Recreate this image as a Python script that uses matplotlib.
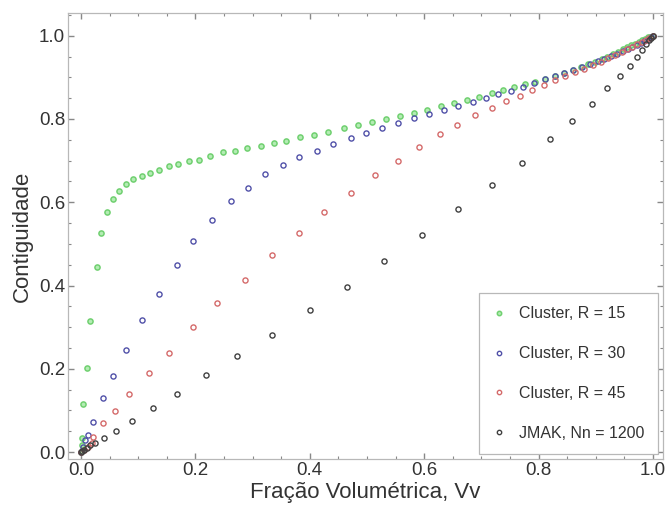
import matplotlib
matplotlib.use("Agg")
import matplotlib.pyplot as plt
from matplotlib.ticker import MultipleLocator

plt.rcParams['font.family'] = ['Liberation Sans', 'DejaVu Sans']

# ---- data ----
labels = ["Cluster, R = 15", "Cluster, R = 30", "Cluster, R = 45", "JMAK, Nn = 1200"]

x_r15 = [0.0, 0.001, 0.002, 0.004, 0.010, 0.016, 0.028, 0.035, 0.046, 0.056, 0.067, 0.078,
         0.091, 0.106, 0.121, 0.137, 0.153, 0.170, 0.188, 0.206, 0.226, 0.249, 0.269,
         0.291, 0.314, 0.338, 0.359, 0.383, 0.407, 0.432, 0.459, 0.484, 0.509, 0.533,
         0.558, 0.582, 0.605, 0.629, 0.652, 0.675, 0.696, 0.719, 0.738, 0.757, 0.776,
         0.794, 0.812, 0.829, 0.845, 0.860, 0.874, 0.887, 0.899, 0.910, 0.920, 0.930,
         0.939, 0.947, 0.955, 0.962, 0.969, 0.975, 0.981, 0.986, 0.991, 0.995, 1.0]
y_r15 = [0.0, 0.018, 0.034, 0.115, 0.202, 0.315, 0.445, 0.526, 0.576, 0.608, 0.626, 0.643,
         0.656, 0.662, 0.670, 0.677, 0.686, 0.692, 0.698, 0.702, 0.710, 0.720, 0.724,
         0.730, 0.736, 0.742, 0.746, 0.756, 0.762, 0.768, 0.779, 0.786, 0.793, 0.800,
         0.808, 0.815, 0.822, 0.832, 0.838, 0.846, 0.853, 0.863, 0.870, 0.876, 0.883,
         0.889, 0.896, 0.903, 0.910, 0.917, 0.924, 0.931, 0.938, 0.944, 0.950, 0.956,
         0.962, 0.967, 0.972, 0.977, 0.981, 0.985, 0.989, 0.993, 0.996, 0.998, 1.0]

x_r30 = [0.0, 0.003, 0.007, 0.012, 0.021, 0.038, 0.056, 0.079, 0.107, 0.136, 0.168, 0.196,
         0.229, 0.262, 0.292, 0.322, 0.353, 0.381, 0.413, 0.441, 0.472, 0.498, 0.526,
         0.554, 0.582, 0.608, 0.635, 0.659, 0.685, 0.708, 0.729, 0.752, 0.773, 0.792,
         0.811, 0.828, 0.845, 0.861, 0.876, 0.890, 0.903, 0.915, 0.926, 0.937, 0.947,
         0.956, 0.964, 0.972, 0.979, 0.985, 0.991, 0.996, 1.0]
y_r30 = [0.0, 0.012, 0.029, 0.041, 0.072, 0.130, 0.183, 0.245, 0.317, 0.380, 0.450, 0.507,
         0.558, 0.603, 0.635, 0.668, 0.690, 0.709, 0.724, 0.740, 0.755, 0.767, 0.779,
         0.790, 0.802, 0.812, 0.822, 0.832, 0.841, 0.851, 0.860, 0.868, 0.877, 0.887,
         0.895, 0.903, 0.910, 0.918, 0.925, 0.932, 0.939, 0.945, 0.951, 0.957, 0.963,
         0.968, 0.973, 0.978, 0.983, 0.988, 0.992, 0.996, 1.0]

x_r45 = [0.0, 0.005, 0.012, 0.019, 0.021, 0.038, 0.059, 0.084, 0.119, 0.154, 0.196, 0.238,
         0.287, 0.334, 0.381, 0.425, 0.472, 0.514, 0.554, 0.591, 0.628, 0.657, 0.689,
         0.719, 0.743, 0.767, 0.789, 0.810, 0.829, 0.847, 0.864, 0.880, 0.895, 0.909,
         0.922, 0.934, 0.945, 0.955, 0.964, 0.972, 0.980, 0.987, 0.993, 1.0]
y_r45 = [0.0, 0.006, 0.013, 0.022, 0.036, 0.069, 0.099, 0.139, 0.190, 0.238, 0.300, 0.358,
         0.413, 0.474, 0.526, 0.577, 0.623, 0.666, 0.700, 0.733, 0.764, 0.786, 0.810,
         0.827, 0.844, 0.856, 0.870, 0.882, 0.893, 0.903, 0.912, 0.921, 0.930, 0.938,
         0.946, 0.953, 0.960, 0.967, 0.973, 0.979, 0.985, 0.990, 0.995, 1.0]

x_jmak = [0.0, 0.002, 0.005, 0.010, 0.016, 0.025, 0.040, 0.061, 0.089, 0.126, 0.168, 0.219,
          0.272, 0.334, 0.400, 0.465, 0.530, 0.596, 0.659, 0.719, 0.771, 0.820, 0.858,
          0.893, 0.920, 0.942, 0.960, 0.972, 0.980, 0.988, 0.993, 0.997, 1.0]
y_jmak = [0.0, 0.002, 0.005, 0.010, 0.016, 0.022, 0.034, 0.050, 0.074, 0.106, 0.139, 0.185,
          0.231, 0.281, 0.341, 0.397, 0.459, 0.522, 0.584, 0.642, 0.695, 0.753, 0.796,
          0.837, 0.875, 0.903, 0.928, 0.950, 0.965, 0.980, 0.989, 0.995, 1.0]

xticks = [0.0, 0.2, 0.4, 0.6, 0.8, 1.0]
yticks = [0.0, 0.2, 0.4, 0.6, 0.8, 1.0]

# ---- figure ----
fig = plt.figure(figsize=(6.65, 5.13), dpi=100)
ax = fig.add_axes([0.102, 0.105, 0.895, 0.870])

series = [
    (x_r15, y_r15, dict(mfc='#b4ecb4', mec='#70d070', mew=1.1)),
    (x_r30, y_r30, dict(mfc='none', mec='#5050a8', mew=1.0)),
    (x_r45, y_r45, dict(mfc='none', mec='#d46a6a', mew=1.0)),
    (x_jmak, y_jmak, dict(mfc='none', mec='#404040', mew=1.0)),
]
for (xs, ys, st), lab in zip(series, labels):
    ax.plot(xs, ys, linestyle='none', marker='o', markersize=3.7, label=lab, **st)

ax.set_xlim(-0.023, 1.0175)
ax.set_ylim(-0.017, 1.055)
ax.set_xticks(xticks)
ax.set_yticks(yticks)
ax.set_xticklabels([f"{t:.1f}" for t in xticks])
ax.set_yticklabels([f"{t:.1f}" for t in yticks])
ax.xaxis.set_minor_locator(MultipleLocator(0.05))
ax.yaxis.set_minor_locator(MultipleLocator(0.05))

for sp in ax.spines.values():
    sp.set_color('#b8b8b8')
    sp.set_linewidth(0.9)
ax.tick_params(which='both', direction='in', top=True, right=True, color='#888888')
ax.tick_params(which='major', length=4, width=1.0, labelsize=13.5, labelcolor='#333333', pad=2)
ax.tick_params(which='minor', length=2, width=0.8)

ax.set_xlabel("Fração Volumétrica, Vv", fontsize=16, color='#333333', labelpad=2)
ax.set_ylabel("Contiguidade", fontsize=16, color='#333333', labelpad=4)

leg = ax.legend(loc='lower right', bbox_to_anchor=(0.992, 0.011), borderaxespad=0,
                fontsize=11.5, labelspacing=1.55, handlelength=0.8, handletextpad=0.9,
                borderpad=0.85, fancybox=False, framealpha=1.0, markerscale=0.85)
leg.get_frame().set_edgecolor('#b8b8b8')
leg.get_frame().set_linewidth(0.9)
for t in leg.get_texts():
    t.set_color('#333333')

fig.savefig("out.png", dpi=100)
